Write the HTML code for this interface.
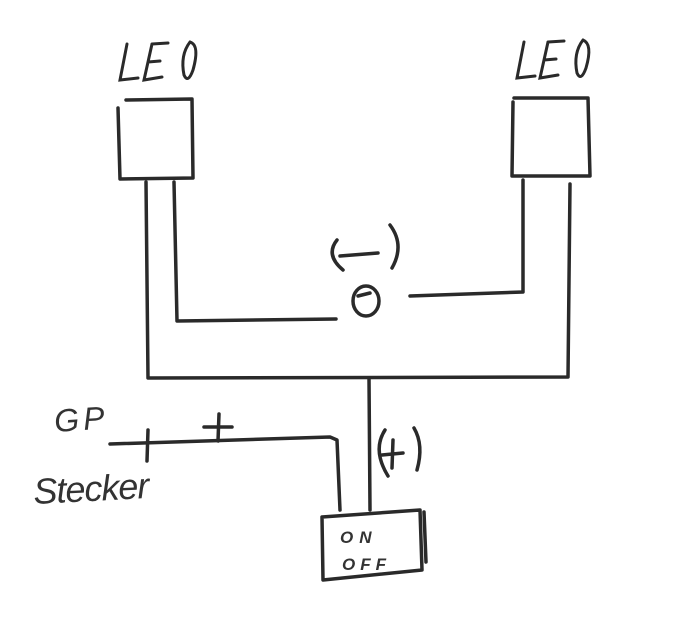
<!DOCTYPE html>
<html><head><meta charset="utf-8"><style>
html,body{margin:0;padding:0;background:#fff;}
svg{display:block;}
text{font-family:"Liberation Sans",sans-serif;fill:#333;font-style:italic;}
</style></head><body>
<svg width="679" height="630" viewBox="0 0 679 630" xmlns="http://www.w3.org/2000/svg">
<g fill="none" stroke="#2a2a2a" stroke-width="3.5" stroke-linecap="round" stroke-linejoin="round">
<path d="M126 100 L192 99 L193 178 L120 179 L118 108"/>
<path d="M514 98 L588 98 L590 176 L512 176 L513 102"/>
<path d="M146 182 L148 378 L568 377 L570 184"/>
<path d="M174 182 L177 321 L336 319"/>
<path d="M523 180 L523 292 L410 296"/>
<ellipse cx="366" cy="301" rx="13" ry="15"/>
<path d="M358 296 L370 293"/>
<path d="M337 240 Q325 255 343 270"/>
<path d="M340 256 L378 253"/>
<path d="M390 225 Q405 245 392 268"/>
<path d="M369 378 L370 510"/>
<path d="M322 517 L420 510 L422 570 L323 580 Z"/>
<path d="M424 512 L426 562"/>
<path d="M110 444 L330 437 L337 440 L340 510"/>
<path d="M148 430 L147 461"/>
<path d="M204 427 L232 427"/>
<path d="M219 414 L218 441"/>
<path d="M385 430 Q372 450 388 476"/>
<path d="M382 455 L403 453"/>
<path d="M393 440 L392 468"/>
<path d="M414 428 Q424 445 417 470"/>
</g>
<g stroke="#2a2a2a" stroke-width="3" fill="none" stroke-linecap="round">
<path d="M127 44 L120 80 L138 78"/>
<path d="M152 44 L144 80 L162 77 M148 62 L160 61 M152 44 L168 43"/>
<path d="M190 42 Q200 45 193 70 Q188 84 184 75 Q180 55 190 42"/>
<path d="M524 42 L517 78 L535 76"/>
<path d="M548 42 L540 78 L558 75 M544 60 L556 59 M548 42 L564 41"/>
<path d="M583 40 Q593 44 586 68 Q581 82 577 73 Q573 53 583 40"/>
</g>
<text x="55" y="432" font-size="32" fill="#777" letter-spacing="4" transform="rotate(-4 55 432)">GP</text>
<text x="34" y="504" font-size="36" letter-spacing="-1" transform="rotate(-3 34 504)">Stecker</text>
<text x="340" y="543" font-size="17" font-weight="bold" letter-spacing="6">ON</text>
<text x="342" y="570" font-size="17" font-weight="bold" letter-spacing="5">OFF</text>
</svg>
</body></html>
